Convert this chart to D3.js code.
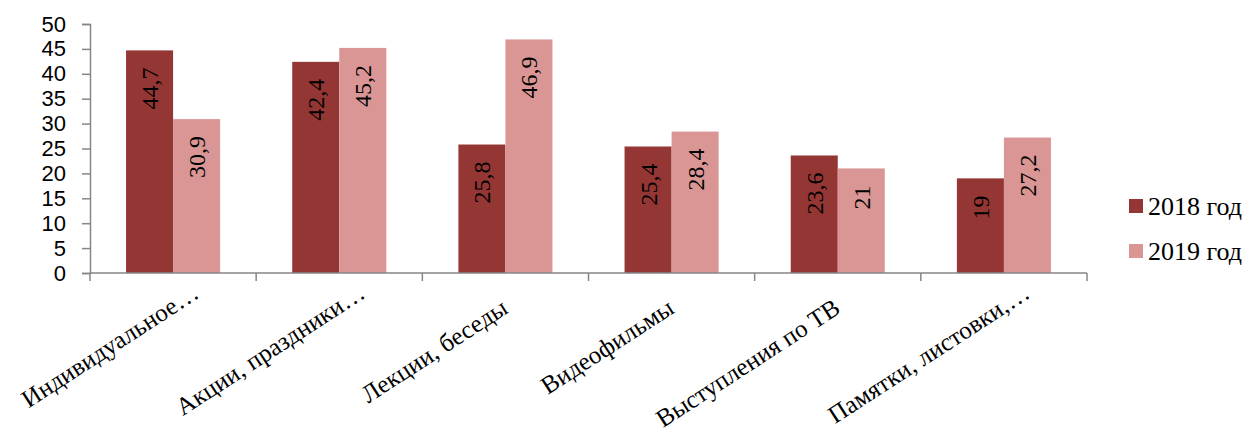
<!DOCTYPE html>
<html>
<head>
<meta charset="utf-8">
<script src="https://cdn.jsdelivr.net/npm/d3@7"></script>
<style>
  html, body { margin: 0; padding: 0; background: #fff; }
  svg { display: block; }
  .serif { font-family: "Liberation Serif", "Times New Roman", Tinos, "DejaVu Serif", serif; }
  .sans { font-family: "Liberation Sans", Arial, sans-serif; }
</style>
</head>
<body>
<svg id="chart" width="1250" height="438"></svg>
<script>
// Формы профилактической работы, % — 2018 и 2019 годы
const categories = [
  "Индивидуальное…",
  "Акции, праздники…",
  "Лекции, беседы",
  "Видеофильмы",
  "Выступления по ТВ",
  "Памятки, листовки,…"
];
const series = ["2018 год", "2019 год"];
const values2018 = [44.7, 42.4, 25.8, 25.4, 23.6, 19];
const values2019 = [30.9, 45.2, 46.9, 28.4, 21, 27.2];
const yTicks = [0, 5, 10, 15, 20, 25, 30, 35, 40, 45, 50];

const colors = ["#943634", "#D99694"];
const axisColor = "#868686";

const svg = d3.select("#chart");
const plot = { left: 90, right: 1087, top: 24, bottom: 273 };

const x0 = d3.scaleBand()
  .domain(categories)
  .range([plot.left, plot.right])
  .paddingInner(0.434)
  .paddingOuter(0.217);

const x1 = d3.scaleBand()
  .domain(series)
  .range([0, x0.bandwidth()]);

const y = d3.scaleLinear()
  .domain([0, 50])
  .range([plot.bottom, plot.top]);

const rows = categories.map((c, i) => ({
  category: c,
  values: [values2018[i], values2019[i]]
}));

// Bars
const groups = svg.append("g")
  .selectAll("g")
  .data(rows)
  .join("g")
  .attr("transform", d => `translate(${x0(d.category)},0)`);

groups.selectAll("rect")
  .data(d => d.values.map((v, k) => ({ key: series[k], value: v, k })))
  .join("rect")
  .attr("x", d => x1(d.key))
  .attr("y", d => y(d.value))
  .attr("width", x1.bandwidth())
  .attr("height", d => y(0) - y(d.value))
  .attr("fill", d => colors[d.k]);

// Value labels, rotated inside bars
groups.selectAll("text")
  .data(d => d.values.map((v, k) => ({ key: series[k], value: v, k })))
  .join("text")
  .attr("class", "serif")
  .attr("transform", d => {
    const cx = x1(d.key) + x1.bandwidth() / 2 + 8.5;
    const ty = y(d.value) + 17;
    return `translate(${cx},${ty}) rotate(-90)`;
  })
  .attr("text-anchor", "end")
  .attr("font-size", 24)
  .attr("fill", "#000")
  .text(d => String(d.value).replace(".", ","));

// Y axis
const yAxis = svg.append("g")
  .attr("transform", `translate(${plot.left},0)`)
  .call(d3.axisLeft(y).tickValues(yTicks).tickSize(8).tickPadding(16).tickFormat(d3.format("d")));
yAxis.attr("font-family", null).attr("font-size", null);
yAxis.select(".domain").attr("stroke", axisColor).attr("stroke-width", 1.5);
yAxis.selectAll(".tick line").attr("stroke", axisColor).attr("stroke-width", 1.5);
yAxis.selectAll(".tick text")
  .attr("class", "sans")
  .attr("font-size", 22)
  .attr("fill", "#000");

// X axis with ticks at category boundaries
const step = x0.step();
const edges = categories.map(c => x0(c) - (step - x0.bandwidth()) / 2)
  .concat([plot.right]);
const xAxis = svg.append("g");
xAxis.append("line")
  .attr("x1", plot.left).attr("x2", plot.right)
  .attr("y1", y(0)).attr("y2", y(0))
  .attr("stroke", axisColor).attr("stroke-width", 1.5);
xAxis.selectAll("line.tk")
  .data(edges)
  .join("line")
  .attr("class", "tk")
  .attr("x1", d => d).attr("x2", d => d)
  .attr("y1", y(0)).attr("y2", y(0) + 8)
  .attr("stroke", axisColor).attr("stroke-width", 1.5);

// Category labels, rotated; truncated labels sit further along their baseline
xAxis.selectAll("text")
  .data(categories)
  .join("text")
  .attr("class", "serif")
  .attr("transform", c => {
    const cx = x0(c) + x0.bandwidth() / 2;
    const extra = c.endsWith("…") ? 28 : 0;
    const a = 33 * Math.PI / 180;
    const tx = cx + 4 + extra * Math.cos(a);
    const ty = y(0) + 39 - extra * Math.sin(a);
    return `translate(${tx},${ty}) rotate(-33)`;
  })
  .attr("text-anchor", "end")
  .attr("font-size", 25)
  .attr("fill", "#000")
  .text(c => c);

// Legend
const legend = svg.append("g")
  .selectAll("g")
  .data(series)
  .join("g")
  .attr("transform", (d, i) => `translate(1129,${199 + i * 45})`);
legend.append("rect")
  .attr("width", 14).attr("height", 14)
  .attr("fill", (d, i) => colors[i]);
legend.append("text")
  .attr("class", "serif")
  .attr("x", 19).attr("y", 16)
  .attr("font-size", 26)
  .attr("fill", "#000")
  .text(d => d);
</script>
</body>
</html>
